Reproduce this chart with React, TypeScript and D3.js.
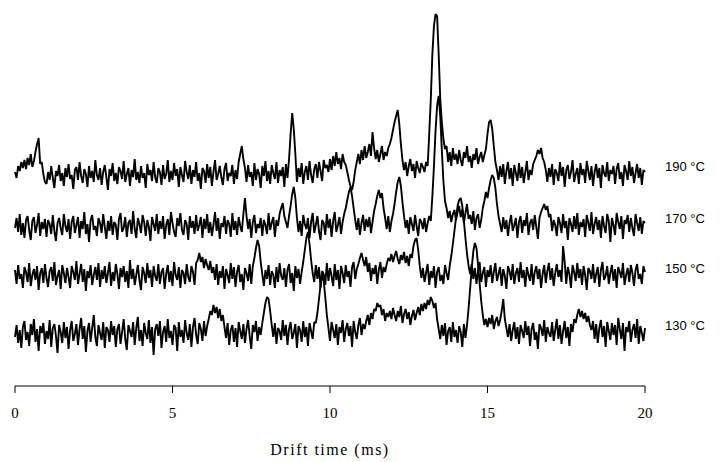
import React from "react";
import * as d3 from "d3";

const sampleStep = 0.05;
const temperatures = ["190 °C", "170 °C", "150 °C", "130 °C"];
const offsets = [212, 160, 110, 53];
const xTicks = [0, 5, 10, 15, 20];

const trace190 = [
  2, -4, 8, 3, 12, 6, 14, 5, 16, 9, 20, 7, 13, 22, 30, 36, 10, 12, 0, -8,
  -10, 2, -6, 8, -4, -14, 3, -2, 9, -7, 1, -12, 6, -3, 10, -5, -1, -15, 4, 7,
  -6, 12, -2, -9, 5, 0, -13, 8, -4, 3, -8, 14, -1, -6, 6, -11, 2, 9, -3, -16,
  5, -2, 11, -7, 1, -10, 7, 3, -5, 13, -8, 0, 6, -12, 4, -3, 15, -6, 2, -9,
  8, -4, 1, -14, 10, -1, 4, -7, 12, -3, -9, 6, 2, -11, 9, -5, 0, 14, -8, 3,
  -6, 11, -2, 5, -13, 7, -1, -8, 13, 2, -5, 9, -10, 4, -3, 12, -7, 1, -15, 6,
  3, -9, 10, -4, 7, -12, 2, 14, -6, 0, 8, -3, -11, 5, 11, -7, 1, -2, 9, -10,
  4, -5, 12, 20, 28, 15, 6, -8, 9, -3, 2, -12, 11, -6, 5, 0, -14, 8, -2, 13,
  -7, 3, -10, 9, 1, -5, 12, -9, 4, -2, 7, -13, 10, -4, 15, 40, 61, 45, 20, -8,
  6, -3, 11, -10, 2, 8, -6, 13, -1, -9, 5, 10, -4, 12, 3, -7, 14, 6, 9, 2,
  15, 4, 18, 8, 22, 10, 16, 5, 20, 12, 9, 2, -6, -12, -16, -8, 4, 12, 20, 10,
  24, 14, 28, 16, 22, 30, 18, 42, 26, 15, 24, 12, 20, 28, 14, 22, 18, 26, 30, 36,
  44, 52, 58, 64, 50, 30, 14, 4, 12, -2, 8, 15, 3, 10, -4, 13, 6, 1, 11, 7,
  2, 12, 8, 40, 75, 120, 148, 160, 158, 120, 75, 52, 35, 25, 28, 12, 22, 8, 26, 14,
  20, 10, 24, 14, 8, 22, 16, 28, 12, 18, 6, 20, 14, 26, 10, 17, 22, 12, 19, 25,
  40, 52, 54, 45, 28, 12, 4, -6, 8, -3, 10, -10, 3, 12, -5, 6, -12, 9, 1, -7,
  11, -4, 7, -9, 2, 13, -6, 4, -1, 10, 14, 18, 24, 20, 26, 16, 12, 4, -8, 6,
  -3, 10, -11, 5, 1, -7, 12, -2, 7, -13, 4, 9, -5, 2, 14, -8, 0, 6, -10, 11,
  -1, 5, -9, 13, 3, -6, 8, -12, 2, 10, -4, 6, -14, 9, 1, -3, 12, -7, 4, 0,
  8, -10, 5, 11, -5, 2, -12, 9, 3, -6, 13, -2, 7, -9, 1, 10, -4, 6, -11, 4,
  2,
];

const trace170 = [
  -2, 8, -6, 12, -9, 3, -12, 6, 10, -4, -14, 5, 9, -7, 1, 13, -10, 4, -3, 7,
  -11, 6, 2, -8, 11, -5, -15, 3, 8, -2, -9, 12, 0, -6, 7, -13, 4, 10, -7, 1,
  9, -12, 5, -3, 14, -8, 2, -16, 6, 11, -4, 0, -10, 8, 3, -7, 12, -1, -13, 5,
  -5, 10, -9, 4, 1, -14, 7, 13, -6, -2, 9, -11, 3, 6, -8, 15, -3, -12, 8, 2,
  -7, 11, 4, -10, 6, -1, -15, 9, 2, -5, 12, -8, 5, -3, 10, -13, 1, 7, -9, 14,
  3, -6, -11, 8, 0, 13, -4, -9, 6, 2, -14, 10, -2, 5, -8, 11, -5, 1, 9, -12,
  7, -3, 12, -7, 4, -10, 1, 14, -5, 8, -13, 3, -1, 10, -8, 6, 2, -11, 13, -4,
  5, -9, 9, 0, -6, 12, 28, 10, -3, 7, -12, 4, 11, -7, 2, -2, 8, -10, 6, 1,
  -8, 13, -4, 3, 9, -11, 6, 0, 12, 18, 23, 10, 4, -2, 10, 20, 32, 39, 28, 8,
  -6, 5, -10, 11, 2, -3, 8, -12, 4, 13, -7, 1, 10, -5, -14, 6, 3, -9, 12, -2,
  7, -11, 5, 14, -6, 1, 9, -8, 4, 12, 18, 26, 34, 39, 30, 18, 6, -4, 8, -9,
  3, 11, -5, 7, -1, 9, -7, 4, 15, 22, 30, 36, 28, 33, 18, 8, -3, 10, -6, 5,
  12, 22, 34, 44, 49, 40, 24, 10, -2, 6, -8, 9, 2, -5, 11, 0, -10, 7, 4, -3,
  8, -6, 3, 10, 5, 30, 60, 95, 120, 130, 110, 76, 45, 25, 18, 8, 15, 4, 12, 16,
  6, 14, 20, 9, 17, 3, 13, 22, 7, 11, 2, 15, -4, 8, 12, -2, 6, 18, 25, 34,
  28, 38, 46, 51, 48, 38, 22, 10, 2, -6, 9, -3, 6, -10, 3, 11, -5, 1, 8, -12,
  4, 10, -7, 6, 0, 13, -9, 3, 7, -4, 11, -1, -13, 8, 14, 18, 22, 16, 20, 9,
  12, -5, 6, 1, -10, 9, 3, -7, 12, -2, 5, -14, 8, 2, -6, 10, -3, 13, -9, 4,
  -1, 7, -11, 11, 3, -5, 14, -8, 2, 9, -4, 6, -12, 10, 0, -7, 12, 5, -16, 8,
  1, -9, 13, 4, -3, 10, -13, 6, 2, 11, -6, 8, -2, -10, 12, 3, -5, 9, -8, 5,
  3,
];

const trace150 = [
  6, -8, 11, -3, 2, -12, 9, 4, -6, 13, -10, 1, 7, -4, 10, -14, 3, 8, -7, 12,
  -2, -11, 5, 9, -5, 14, -9, 0, 6, -13, 11, 3, -7, 8, -1, -12, 10, 4, -4, 15,
  -8, 2, 12, -6, 7, -15, 5, -2, 11, -9, 1, 9, -4, 13, -11, 6, -3, 10, -7, 3,
  14, -10, 4, -5, 12, 2, -13, 8, -1, 10, -6, 5, -12, 16, -3, 7, -9, 1, 11, -4,
  -14, 9, 3, -7, 13, -2, 6, -11, 10, 0, -5, 12, -8, 4, 8, -13, 2, 11, -6, 5,
  -10, 14, 1, -4, 9, -12, 6, 3, -8, 12, -1, -6, 10, 4, -9, 13, 16, 23, 14, 19,
  8, 17, 11, 6, 15, 3, 9, -4, 12, -9, 5, -2, 10, -13, 7, 1, -7, 13, -3, 9,
  -11, 4, 11, -6, 2, -14, 8, 3, -5, 12, -8, 10, 18, 28, 36, 30, 14, 2, -10, 6,
  -3, 11, -9, 5, 1, -12, 9, -6, 13, 0, -4, 8, -11, 6, 12, -7, 3, -15, 10, -2,
  7, -8, 4, 14, 26, 38, 44, 32, 16, 3, -6, 11, -3, 9, -12, 5, 2, -9, 13, -5,
  8, 0, -10, 12, -4, 6, -13, 10, 3, -7, 11, -1, 5, -11, 9, 14, -3, 7, 12, 18,
  23, 16, 10, 19, 4, 13, -5, 8, 2, 11, -8, 6, 14, -2, 9, 4, 12, 18, 15, 22,
  14, 20, 25, 17, 12, 21, 16, 24, 13, 20, 10, 22, 18, 30, 36, 38, 26, 10, -2, 8,
  -6, 3, 12, -9, 5, -2, 10, -12, 4, 9, -5, 1, -8, 11, 3, -4, 10, 20, 32, 45,
  58, 70, 76, 78, 70, 55, 38, 22, 10, 2, 12, -3, 8, -8, 5, 14, -6, 3, 9, -11,
  6, -1, 11, -7, 4, 13, -5, 2, 9, -10, 7, 0, -13, 10, 5, -4, 12, -8, 3, 8,
  -6, 14, -2, 6, -11, 9, 1, -5, 12, -9, 4, 10, -3, 7, -12, 2, 11, -7, 5, 13,
  -4, 8, -10, 3, 12, -1, 6, -6, 30, 14, -8, 9, 2, -12, 11, 4, -5, 13, -2, 7,
  -9, 10, 1, -14, 8, 5, -3, 12, -7, 2, 9, -11, 6, 14, -4, 0, 10, -8, 3, 11,
  -5, 7, -12, 9, 4, -2, 13, -9, 1, 8, -6, 11, 3, -10, 6, 12, -3, 2, -8, 10,
  4,
];

const trace130 = [
  -4, 8, -10, 3, -15, 6, 12, -7, 1, -13, 9, -2, 14, -9, 4, -18, 7, 0, 10, -11,
  2, -6, 13, -14, 5, 9, -3, -20, 8, 1, -10, 11, -5, 6, -16, 3, 12, -8, -1, 9,
  -12, 4, 15, -6, 7, -19, 2, 10, -9, 5, 18, -4, -13, 8, 0, -7, 11, -15, 6, 3,
  -9, 12, -2, 7, -14, 4, 9, -11, 1, 14, -6, -17, 8, 2, -4, 11, -12, 5, 16, -8,
  3, -13, 10, 0, -6, 13, -10, 6, -22, 4, 9, -3, 12, -15, 1, 7, -9, 14, -5, 2,
  -12, 8, 5, -18, 11, -4, 3, -10, 13, 0, -7, 9, -14, 6, 15, -2, -11, 10, 4, -8,
  12, -3, 7, 14, 22, 18, 28, 20, 26, 15, 24, 12, 18, 6, -5, 10, -12, 3, 8, -9,
  5, -14, 11, 2, -6, 9, -10, 4, 13, -3, -16, 8, 1, 12, -8, 6, -2, 10, 20, 30,
  36, 34, 22, 8, -4, 10, -11, 5, 2, -7, 13, -3, 8, -12, 4, 11, -6, 0, 9, -15,
  7, 3, -9, 12, -4, 6, -13, 10, 2, -6, 11, 10, 20, 34, 48, 58, 52, 36, 18, 5,
  -8, 11, 3, -5, 9, -12, 6, 0, 13, -9, 4, 10, -3, 7, -14, 12, 1, -6, 8, 15,
  -2, 9, 4, 12, 18, 8, 20, 14, 24, 22, 30, 26, 28, 18, 24, 12, 20, 16, 22, 14,
  25, 18, 12, 22, 16, 27, 10, 19, 24, 14, 21, 8, 17, 23, 13, 20, 26, 18, 29, 22,
  30, 24, 33, 28, 36, 32, 25, 30, 14, 4, -6, 8, -3, 10, -12, 2, 6, -9, 11, -4,
  3, -10, 7, 1, -14, 9, -5, 8, 25, 45, 65, 82, 90, 85, 68, 50, 32, 18, 8, 14,
  6, 15, 9, 18, 4, 12, 16, 7, 13, 22, 34, 14, 5, -4, 9, -8, 3, 11, -6, 6,
  -11, 8, 2, -5, 12, -2, 7, -13, 4, 10, -7, 1, -16, 9, 5, -3, 13, -9, 6, 0,
  -4, 11, -8, 3, 14, -6, 8, -11, 2, 12, -5, 6, -13, 9, 1, 14, 10, 18, 24, 16,
  22, 14, 20, 11, 17, 8, 3, 12, -6, 9, -10, 5, 13, -4, 7, -14, 11, 2, -7, 10,
  -2, 8, -12, 15, 4, -6, 10, -18, 6, 1, 12, -9, 3, 9, -5, 14, -11, 7, 0, -8,
  5,
];

const traces = [trace190, trace170, trace150, trace130];

export default function App() {
  const W = 719;
  const H = 462;
  const x = d3.scaleLinear().domain([0, 20]).range([15, 645]);
  const y = d3.scaleLinear().domain([0, 400]).range([386, -14]);
  const axisY = y(0);

  return (
    <svg
      width={W}
      height={H}
      viewBox={`0 0 ${W} ${H}`}
      style={{ position: "absolute", left: 0, top: 0, background: "#fff" }}
    >
      <rect x={0} y={0} width={W} height={H} fill="#fff" />
      {traces.map((tr, k) => {
        const line = d3
          .line<number>()
          .x((_, i) => x(i * sampleStep))
          .y((d) => y(offsets[k] + d));
        return (
          <path
            key={k}
            d={line(tr) || ""}
            fill="none"
            stroke="#000"
            strokeWidth={1.9}
            strokeLinejoin="bevel"
          />
        );
      })}
      {temperatures.map((t, k) => (
        <text
          key={t}
          x={665}
          y={y(offsets[k]) - 6}
          dominantBaseline="middle"
          fontFamily="Liberation Sans, Arial, sans-serif"
          fontSize={13}
          fill="#000"
        >
          {t}
        </text>
      ))}
      <line x1={x(0)} x2={x(20)} y1={axisY} y2={axisY} stroke="#000" strokeWidth={1} />
      {xTicks.map((t) => (
        <g key={t}>
          <line x1={x(t)} x2={x(t)} y1={axisY} y2={axisY + 7} stroke="#000" strokeWidth={1} />
          <text
            x={x(t)}
            y={axisY + 32}
            textAnchor="middle"
            fontFamily="Liberation Serif, Times New Roman, serif"
            fontSize={15}
            fill="#000"
          >
            {t}
          </text>
        </g>
      ))}
      <text
        x={x(10)}
        y={455}
        textAnchor="middle"
        fontFamily="Liberation Serif, Times New Roman, serif"
        fontSize={16}
        letterSpacing={1.5}
        fill="#000"
      >
        Drift time (ms)
      </text>
    </svg>
  );
}
